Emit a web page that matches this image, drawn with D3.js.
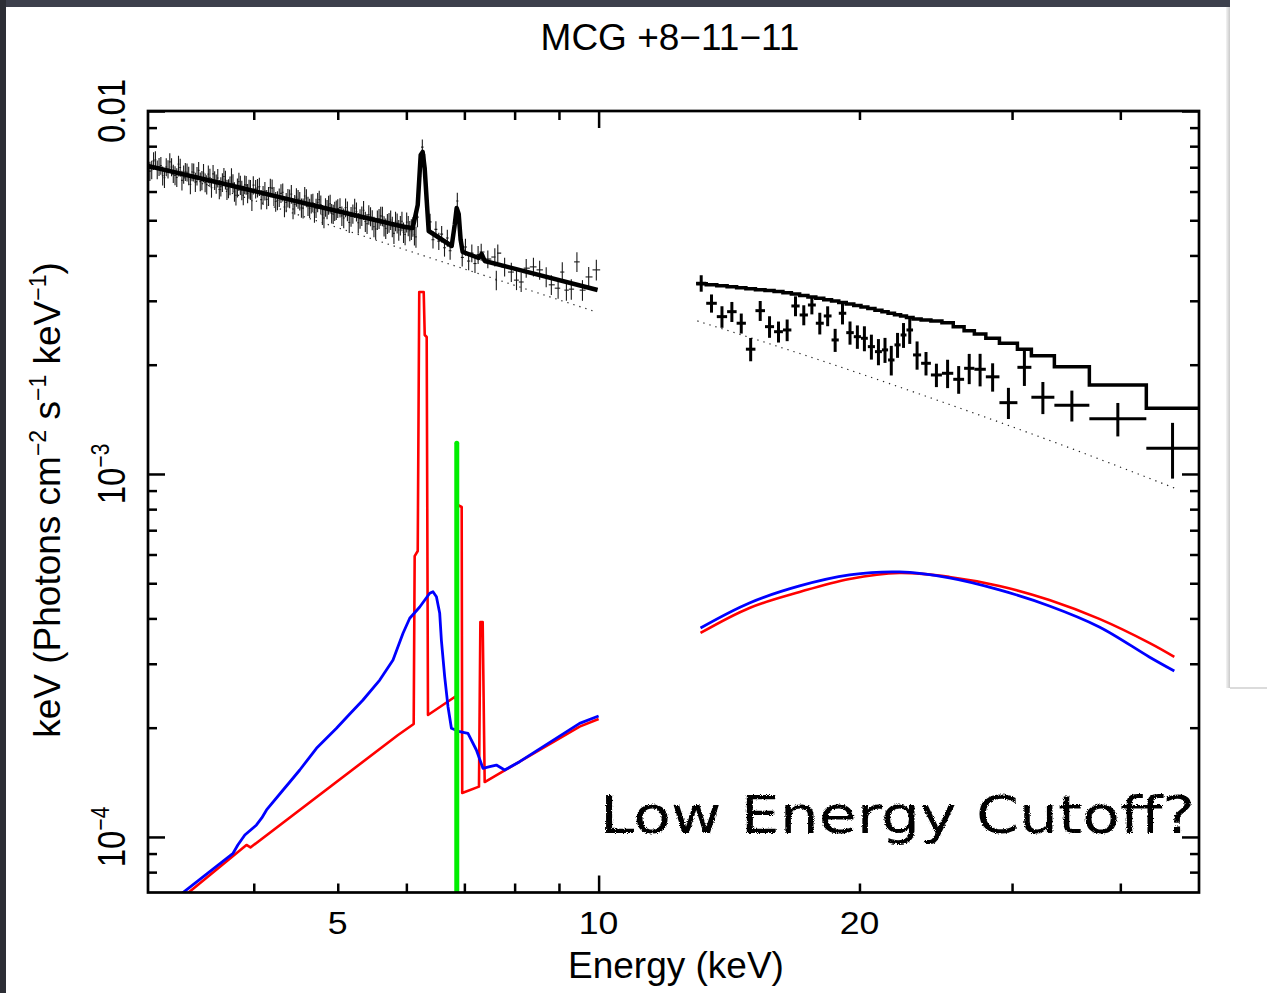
<!DOCTYPE html>
<html>
<head>
<meta charset="utf-8">
<script src="https://cdn.jsdelivr.net/npm/d3@7"></script>
<style>
  html, body { margin: 0; padding: 0; background: #fff; }
  svg { display: block; }
  text { font-family: "Liberation Sans", Arial, Helvetica, sans-serif; fill: #000; }
</style>
</head>
<body>
<svg id="chart" width="1267" height="993"></svg>
<script>
// ---------------- axis ticks ----------------
const xTickMajor = [10];
const xTickMinor = [4, 5, 6, 7, 8, 9, 20, 30, 40];
const xTickLabels = [5, 10, 20];
const yTickMajor = [1e-4, 1e-3, 1e-2];
const yTickMinor = [8e-5, 9e-5, 2e-4, 3e-4, 4e-4, 5e-4, 6e-4, 7e-4, 8e-4, 9e-4,
                    2e-3, 3e-3, 4e-3, 5e-3, 6e-3, 7e-3, 8e-3, 9e-3];
const yLabelValues = [1e-2, 1e-3, 1e-4];
const yLabelBase = ["0.01", "10", "10"];
const yLabelExp = ["", "\u22123", "\u22124"];

// ---------------- 3-10 keV spectrum (flux in units of 1e-3) ----------------
const pnEnergy = [3.02,3.05,3.08,3.11,3.14,3.17,3.20,3.23,3.26,3.29,3.32,3.35,3.38,3.41,3.44,3.47,3.50,3.53,3.56,3.59,3.62,3.65,3.68,3.71,3.74,3.77,3.80,3.83,3.86,3.89,3.92,3.95,3.98,
  4.02,4.06,4.10,4.14,4.18,4.22,4.26,4.30,4.34,4.38,4.42,4.46,4.50,4.54,4.58,4.62,4.66,4.70,4.74,4.78,4.82,4.86,4.90,4.94,4.98,
  5.03,5.08,5.13,5.18,5.23,5.28,5.33,5.38,5.43,5.48,5.53,5.58,5.63,5.68,5.73,5.78,5.83,5.88,5.93,5.98,6.03,6.08,6.13,6.18,
  6.22,6.26,6.30,6.34,6.39,6.44,6.49,6.54,6.59,6.64,6.69,6.74,6.79,6.83,6.87,6.91,6.96,7.02,7.08,7.14,7.20,7.26,
  7.32,7.45,7.59,7.62,7.65,7.79,7.93,8.04,8.14,8.25,8.41,8.55,8.70,8.82,8.98,9.08,9.18,9.30,9.44,9.58,9.74,9.94];
const pnFlux = [7.27,6.89,7.34,7.02,6.63,7.01,7.24,6.72,6.56,6.99,6.69,6.78,6.28,6.78,6.62,6.39,6.75,6.27,6.55,6.71,6.30,6.08,6.36,6.46,6.12,6.58,5.99,6.15,6.25,5.86,6.25,6.10,5.66,
  6.10,6.19,5.86,5.71,6.15,5.82,5.67,5.93,5.44,5.76,5.90,5.53,5.72,5.41,5.83,5.47,5.56,5.25,5.60,5.52,5.07,5.36,5.55,5.20,5.34,
  5.42,5.07,5.30,5.12,5.40,4.92,5.14,4.96,5.18,5.01,4.73,5.05,5.13,4.75,4.93,4.80,4.97,4.70,4.97,4.57,4.83,4.72,4.56,5.10,
  6.60,7.95,7.25,5.55,4.95,4.42,4.72,4.38,4.58,4.20,4.47,4.12,4.55,4.90,5.65,4.62,3.95,4.22,3.86,4.06,3.80,4.02,
  4.09,3.91,3.96,3.42,4.06,3.72,3.60,3.42,3.38,3.69,3.72,3.65,3.49,3.32,3.25,3.60,3.21,3.23,3.84,3.21,3.49,3.65];
const pnError = [0.41,0.40,0.41,0.40,0.40,0.40,0.41,0.39,0.39,0.40,0.39,0.39,0.38,0.39,0.39,0.38,0.39,0.38,0.38,0.39,0.38,0.37,0.38,0.38,0.37,0.38,0.37,0.37,0.38,0.36,0.37,0.37,0.36,
  0.36,0.36,0.35,0.35,0.36,0.35,0.34,0.35,0.34,0.34,0.35,0.34,0.34,0.33,0.34,0.33,0.34,0.33,0.34,0.33,0.32,0.33,0.33,0.32,0.33,
  0.33,0.32,0.33,0.32,0.33,0.32,0.32,0.32,0.32,0.32,0.31,0.32,0.32,0.31,0.31,0.31,0.31,0.31,0.31,0.30,0.31,0.31,0.30,0.32,
  0.30,0.40,0.36,0.30,0.26,0.24,0.25,0.24,0.24,0.23,0.24,0.23,0.24,0.26,0.30,0.25,0.22,0.23,0.22,0.23,0.22,0.23,
  0.22,0.22,0.23,0.21,0.23,0.22,0.22,0.21,0.21,0.22,0.22,0.22,0.22,0.21,0.21,0.23,0.21,0.21,0.24,0.21,0.23,0.24];
// second detector's channels over the same continuum band (units of 1e-3)
const pn2Energy = [3.035,3.065,3.095,3.125,3.155,3.185,3.215,3.245,3.275,3.305,3.335,3.365,3.395,3.425,3.455,3.485,3.515,3.545,3.575,3.605,3.635,3.665,3.695,3.725,3.755,3.785,3.815,3.845,3.875,3.905,3.935,3.965,3.995,
  4.04,4.08,4.12,4.16,4.20,4.24,4.28,4.32,4.36,4.40,4.44,4.48,4.52,4.56,4.60,4.64,4.68,4.72,4.76,4.80,4.84,4.88,4.92,4.96,5.00,
  5.055,5.105,5.155,5.205,5.255,5.305,5.355,5.405,5.455,5.505,5.555,5.605,5.655,5.705,5.755,5.805,5.855,5.905,5.955,6.005,6.055,6.105,6.155];
const pn2Flux = [6.83,7.29,6.90,7.07,6.55,6.92,7.01,6.64,7.14,6.44,6.80,6.63,6.79,6.37,6.86,6.44,6.35,6.70,6.15,6.44,6.54,6.19,6.60,6.07,6.23,6.32,5.86,6.39,6.05,6.27,5.93,6.09,6.25,
  6.14,5.70,6.02,5.82,6.13,5.63,5.78,5.97,5.60,5.74,5.37,5.79,5.65,5.40,5.76,5.40,5.59,5.40,5.70,5.18,5.43,5.51,5.22,5.30,5.39,
  5.14,5.42,4.93,5.21,5.28,5.05,5.33,4.89,5.12,4.80,5.01,5.14,4.82,4.89,5.01,4.60,4.91,4.84,4.63,4.94,4.68,4.80,4.50];
const pn2Error = [0.42,0.41,0.41,0.40,0.41,0.40,0.40,0.40,0.39,0.40,0.39,0.39,0.39,0.39,0.38,0.39,0.38,0.38,0.38,0.38,0.38,0.38,0.37,0.38,0.37,0.37,0.37,0.37,0.37,0.37,0.36,0.37,0.36,
  0.36,0.35,0.35,0.35,0.35,0.35,0.34,0.34,0.34,0.34,0.34,0.34,0.33,0.34,0.33,0.33,0.33,0.33,0.33,0.33,0.32,0.33,0.32,0.32,0.32,
  0.32,0.32,0.32,0.32,0.32,0.31,0.32,0.31,0.31,0.31,0.31,0.31,0.31,0.31,0.31,0.30,0.31,0.30,0.30,0.31,0.30,0.30,0.30];

// folded model, 3-10 keV (units of 1e-3)
const pnModelEnergy = [3.019,3.958,4.934,5.974,6.102,6.184,6.233,6.266,6.299,6.333,6.367,6.768,6.822,6.858,6.895,6.931,6.968,7.271,7.329,7.388,9.973];
const pnModelFlux   = [7.055,6.059,5.337,4.791,4.761,5.509,7.565,7.710,6.966,5.686,4.671,4.247,4.852,5.405,5.203,4.412,4.089,3.936,4.037,3.862,3.213];
// power-law continuum, 3-10 keV (units of 1e-3)
const pnContEnergy = [3.02, 9.87];
const pnContFlux   = [7.06, 2.81];

// ---------------- 13-50 keV spectrum (units of 1e-3) ----------------
const batEdges = [12.96,13.31,13.69,14.07,14.43,14.79,15.17,15.56,15.94,16.32,16.69,17.06,17.44,17.81,18.19,18.57,18.93,19.31,19.70,20.08,
  20.45,20.84,21.23,21.58,21.95,22.31,22.66,23.06,23.56,24.18,24.90,25.66,26.41,27.14,27.98,29.01,30.43,31.58,33.57,36.84,42.86,49.27];
const batFlux = [3.353,2.953,2.713,2.800,2.602,2.207,2.818,2.546,2.466,2.493,2.903,2.742,2.921,2.602,2.725,2.340,2.772,2.451,2.389,2.365,
  2.243,2.173,2.197,2.061,2.268,2.415,2.493,2.128,2.018,1.874,1.894,1.823,1.955,1.943,1.852,1.572,1.967,1.627,1.546,1.419,1.177];
const batError = [0.175,0.170,0.185,0.178,0.165,0.163,0.178,0.174,0.164,0.171,0.183,0.174,0.169,0.179,0.172,0.171,0.190,0.180,0.177,0.187,
  0.177,0.180,0.174,0.193,0.179,0.190,0.211,0.190,0.150,0.139,0.170,0.160,0.187,0.200,0.166,0.155,0.219,0.165,0.151,0.150,0.206];
const batModel = [3.342,3.321,3.298,3.279,3.258,3.240,3.219,3.200,3.181,3.156,3.130,3.102,3.075,3.050,3.022,2.996,2.968,2.941,2.914,2.884,
  2.855,2.826,2.797,2.771,2.745,2.724,2.698,2.673,2.656,2.639,2.611,2.545,2.481,2.430,2.364,2.291,2.205,2.118,1.974,1.759,1.517];
const batContEnergy = [13.0, 17.98, 24.74, 34.02, 46.17];
const batContFlux   = [2.64, 2.061, 1.589, 1.209, 0.915];

// ---------------- reflection components (absolute units) ----------------
const redLowEnergy = [3.200,3.923,3.965,5.869,6.118,6.134,6.184,6.209,6.283,6.300,6.333,6.355,6.822,6.858,6.876,6.950,6.960,7.277,7.304,7.349,7.388,9.508,10.0];
const redLowFlux   = [6.373e-5,9.504e-5,9.355e-5,1.909e-4,2.048e-4,5.94e-4,6.136e-4,3.172e-3,3.172e-3,2.415e-3,2.384e-3,2.168e-4,2.430e-4,2.384e-4,8.215e-4,8.11e-4,1.322e-4,1.376e-4,3.91e-4,3.91e-4,1.417e-4,2.013e-4,2.113e-4];
const blueLowEnergy = [3.243,3.786,3.834,3.906,4.029,4.086,4.138,4.324,4.402,4.520,4.725,4.983,5.162,5.347,5.590,5.791,5.947,6.054,6.217,6.384,6.440,6.499,6.556,6.585,6.643,6.702,6.763,6.913,7.067,7.227,7.354,7.487,7.621,7.791,8.107,9.508,10.0];
const blueLowFlux   = [6.747e-5,9.016e-5,9.50e-5,1.0126e-4,1.079e-4,1.128e-4,1.187e-4,1.347e-4,1.417e-4,1.529e-4,1.755e-4,1.992e-4,2.182e-4,2.384e-4,2.706e-4,3.073e-4,3.640e-4,4.003e-4,4.301e-4,4.691e-4,4.739e-4,4.591e-4,4.132e-4,3.488e-4,2.763e-4,2.285e-4,1.992e-4,1.950e-4,1.930e-4,1.736e-4,1.546e-4,1.562e-4,1.578e-4,1.529e-4,1.612e-4,2.056e-4,2.154e-4];
const hiEnergy  = [13.11,14.93,17.06,19.48,22.24,25.40,29.01,33.13,37.83,43.20,46.17];
const redHiFlux = [3.647e-4,4.275e-4,4.731e-4,5.138e-4,5.338e-4,5.204e-4,4.915e-4,4.497e-4,3.987e-4,3.424e-4,3.133e-4];
const blueHiFlux = [3.765e-4,4.412e-4,4.915e-4,5.271e-4,5.372e-4,5.171e-4,4.792e-4,4.329e-4,3.789e-4,3.133e-4,2.866e-4];
// narrow emission line
const greenEnergy = [6.86, 6.86];
const greenFlux   = [6.0e-5, 1.215e-3];

const UNIT = 1e-3;

// ---------------- scales ----------------
const x = d3.scaleLog().domain([3.02, 49.3]).range([148, 1199]);
const y = d3.scaleLog().domain([7.03e-5, 1e-2]).range([892.5, 111]);
const [xL, xR] = x.range();
const [yB, yT] = y.range();

const svg = d3.select("#chart");

// page surround
svg.append("rect").attr("width", 1267).attr("height", 993).attr("fill", "#fff");
svg.append("rect").attr("x", 0).attr("y", 0).attr("width", 1230).attr("height", 7).attr("fill", "#3d404c");
svg.append("rect").attr("x", 0).attr("y", 0).attr("width", 6).attr("height", 993).attr("fill", "#2c2e35");
const defs = svg.append("defs");
const sh = defs.append("linearGradient").attr("id", "shade").attr("x1", 0).attr("x2", 1);
sh.append("stop").attr("offset", 0).attr("stop-color", "#f4f4f4");
sh.append("stop").attr("offset", 1).attr("stop-color", "#c9c9c9");
svg.append("rect").attr("x", 1226).attr("y", 7).attr("width", 4).attr("height", 681).attr("fill", "url(#shade)");
svg.append("line").attr("x1", 1230).attr("x2", 1267).attr("y1", 688).attr("y2", 688).attr("stroke", "#cfcfcf").attr("stroke-width", 1.5);

defs.append("clipPath").attr("id", "plotclip").append("rect")
  .attr("x", xL).attr("y", yT).attr("width", xR - xL).attr("height", yB - yT);

const chalk = defs.append("filter").attr("id", "chalk")
  .attr("x", "-5%").attr("y", "-30%").attr("width", "110%").attr("height", "160%");
chalk.append("feTurbulence").attr("type", "fractalNoise").attr("baseFrequency", 0.9)
  .attr("numOctaves", 2).attr("seed", 4).attr("result", "noise");
chalk.append("feDisplacementMap").attr("in", "SourceGraphic").attr("in2", "noise")
  .attr("scale", 3.5).attr("xChannelSelector", "R").attr("yChannelSelector", "G");

const plot = svg.append("g").attr("clip-path", "url(#plotclip)");
const line = d3.line().x(d => x(d[0])).y(d => y(d[1]));

// ---- 3-10 keV data crosses (channels from both sets, ordered by energy) ----
const pnAll = d3.zip(pnEnergy, pnFlux, pnError)
  .concat(d3.zip(pn2Energy, pn2Flux, pn2Error))
  .sort((a, b) => a[0] - b[0]);
const n = pnAll.length;
const mids = d3.range(n - 1).map(i => Math.sqrt(pnAll[i][0] * pnAll[i + 1][0]));
const pnG = plot.append("g").attr("stroke", "#1a1a1a").attr("stroke-width", 1.1);
pnAll.forEach(([e, fv, ev], i) => {
  const lo = i > 0 ? mids[i - 1] : e * e / mids[0];
  const hi = i < n - 1 ? mids[i] : e * e / mids[n - 2];
  const f = fv * UNIT, er = ev * UNIT;
  pnG.append("line").attr("x1", x(lo)).attr("x2", x(hi)).attr("y1", y(f)).attr("y2", y(f));
  pnG.append("line").attr("x1", x(e)).attr("x2", x(e)).attr("y1", y(f - er)).attr("y2", y(f + er));
});

// ---- continua (dotted) ----
plot.append("path").datum(pnContEnergy.map((e, i) => [e, pnContFlux[i] * UNIT]))
  .attr("d", line).attr("fill", "none").attr("stroke", "#222").attr("stroke-width", 1.2).attr("stroke-dasharray", "1.3,5");
plot.append("path").datum(batContEnergy.map((e, i) => [e, batContFlux[i] * UNIT]))
  .attr("d", line.curve(d3.curveMonotoneX)).attr("fill", "none").attr("stroke", "#222").attr("stroke-width", 1.2).attr("stroke-dasharray", "1.3,5");
line.curve(d3.curveLinear);

// ---- 3-10 keV model ----
plot.append("path").datum(pnModelEnergy.map((e, i) => [e, pnModelFlux[i] * UNIT]))
  .attr("d", line).attr("fill", "none").attr("stroke", "#000").attr("stroke-width", 4.5).attr("stroke-linejoin", "round");

// ---- 13-50 keV data crosses ----
const batG = plot.append("g").attr("stroke", "#000").attr("stroke-width", 3);
batFlux.forEach((fv, i) => {
  const lo = batEdges[i], hi = batEdges[i + 1], c = Math.sqrt(lo * hi);
  const f = fv * UNIT, er = batError[i] * UNIT;
  batG.append("line").attr("x1", x(lo)).attr("x2", x(hi)).attr("y1", y(f)).attr("y2", y(f));
  batG.append("line").attr("x1", x(c)).attr("x2", x(c)).attr("y1", y(f - er)).attr("y2", y(f + er));
});

// ---- 13-50 keV model (binned) ----
const stepPts = [];
batModel.forEach((m, i) => { stepPts.push([batEdges[i], m * UNIT]); stepPts.push([batEdges[i + 1], m * UNIT]); });
plot.append("path").datum(stepPts).attr("d", line).attr("fill", "none")
  .attr("stroke", "#000").attr("stroke-width", 3.5).attr("stroke-linejoin", "miter");

// ---- reflection components ----
plot.append("path").datum(redLowEnergy.map((e, i) => [e, redLowFlux[i]]))
  .attr("d", line).attr("fill", "none").attr("stroke", "#ff0000").attr("stroke-width", 2.6).attr("stroke-linejoin", "round");
plot.append("path").datum(hiEnergy.map((e, i) => [e, redHiFlux[i]]))
  .attr("d", line.curve(d3.curveCatmullRom)).attr("fill", "none").attr("stroke", "#ff0000").attr("stroke-width", 2.6);
line.curve(d3.curveLinear);
plot.append("path").datum(blueLowEnergy.map((e, i) => [e, blueLowFlux[i]]))
  .attr("d", line).attr("fill", "none").attr("stroke", "#0000ff").attr("stroke-width", 2.8).attr("stroke-linejoin", "round");
plot.append("path").datum(hiEnergy.map((e, i) => [e, blueHiFlux[i]]))
  .attr("d", line.curve(d3.curveCatmullRom)).attr("fill", "none").attr("stroke", "#0000ff").attr("stroke-width", 2.8);
line.curve(d3.curveLinear);
plot.append("path").datum(greenEnergy.map((e, i) => [e, greenFlux[i]]))
  .attr("d", line).attr("fill", "none").attr("stroke", "#00ee00").attr("stroke-width", 5).attr("stroke-linecap", "round");

// ---------------- axes ----------------
function tidy(g) {
  g.select(".domain").remove();
  g.selectAll(".tick line").attr("stroke", "#000").attr("stroke-width", 2.5);
}
const noLabel = () => "";
svg.append("g").attr("transform", `translate(0,${yB})`).call(d3.axisBottom(x).tickValues(xTickMinor).tickSize(-9).tickFormat(noLabel)).call(tidy);
svg.append("g").attr("transform", `translate(0,${yB})`).call(d3.axisBottom(x).tickValues(xTickMajor).tickSize(-17).tickFormat(noLabel)).call(tidy);
svg.append("g").attr("transform", `translate(0,${yT})`).call(d3.axisTop(x).tickValues(xTickMinor).tickSize(-9).tickFormat(noLabel)).call(tidy);
svg.append("g").attr("transform", `translate(0,${yT})`).call(d3.axisTop(x).tickValues(xTickMajor).tickSize(-17).tickFormat(noLabel)).call(tidy);
svg.append("g").attr("transform", `translate(${xL},0)`).call(d3.axisLeft(y).tickValues(yTickMinor).tickSize(-9).tickFormat(noLabel)).call(tidy);
svg.append("g").attr("transform", `translate(${xL},0)`).call(d3.axisLeft(y).tickValues(yTickMajor).tickSize(-17).tickFormat(noLabel)).call(tidy);
svg.append("g").attr("transform", `translate(${xR},0)`).call(d3.axisRight(y).tickValues(yTickMinor).tickSize(-9).tickFormat(noLabel)).call(tidy);
svg.append("g").attr("transform", `translate(${xR},0)`).call(d3.axisRight(y).tickValues(yTickMajor).tickSize(-17).tickFormat(noLabel)).call(tidy);

// frame
svg.append("rect").attr("x", xL).attr("y", yT).attr("width", xR - xL).attr("height", yB - yT)
  .attr("fill", "none").attr("stroke", "#000").attr("stroke-width", 2.7);

// tick labels
xTickLabels.forEach(v => {
  svg.append("text").attr("transform", `translate(${x(v)},934) scale(1.15,1)`)
    .attr("text-anchor", "middle").style("font-size", "31px").text(v);
});
yLabelValues.forEach((v, i) => {
  const t = svg.append("text").attr("transform", `translate(125,${y(v)}) rotate(-90) scale(1,1.2)`)
    .attr("text-anchor", "middle").style("font-size", "33px");
  t.append("tspan").text(yLabelBase[i]);
  if (yLabelExp[i]) t.append("tspan").attr("dy", -13).style("font-size", "21px").text(yLabelExp[i]);
});

// titles
svg.append("text").attr("x", 670).attr("y", 50).attr("text-anchor", "middle").style("font-size", "37px").text("MCG +8\u221211\u221211");
svg.append("text").attr("x", 676).attr("y", 978).attr("text-anchor", "middle").style("font-size", "37px").text("Energy (keV)");
const yt = svg.append("text").attr("transform", "translate(60,500) rotate(-90)")
  .attr("text-anchor", "middle").style("font-size", "37px");
yt.append("tspan").text("keV (Photons cm");
yt.append("tspan").attr("dy", -14).style("font-size", "23px").text("\u22122");
yt.append("tspan").attr("dy", 14).text(" s");
yt.append("tspan").attr("dy", -14).style("font-size", "23px").text("\u22121");
yt.append("tspan").attr("dy", 14).text(" keV");
yt.append("tspan").attr("dy", -14).style("font-size", "23px").text("\u22121");
yt.append("tspan").attr("dy", 14).text(")");

// annotation
svg.append("text").attr("x", 600).attr("y", 833)
  .attr("textLength", 595).attr("lengthAdjust", "spacingAndGlyphs")
  .attr("filter", "url(#chalk)")
  .style("font-family", "'DejaVu Sans', sans-serif").style("font-size", "52px")
  .text("Low Energy Cutoff?");
</script>
</body>
</html>
